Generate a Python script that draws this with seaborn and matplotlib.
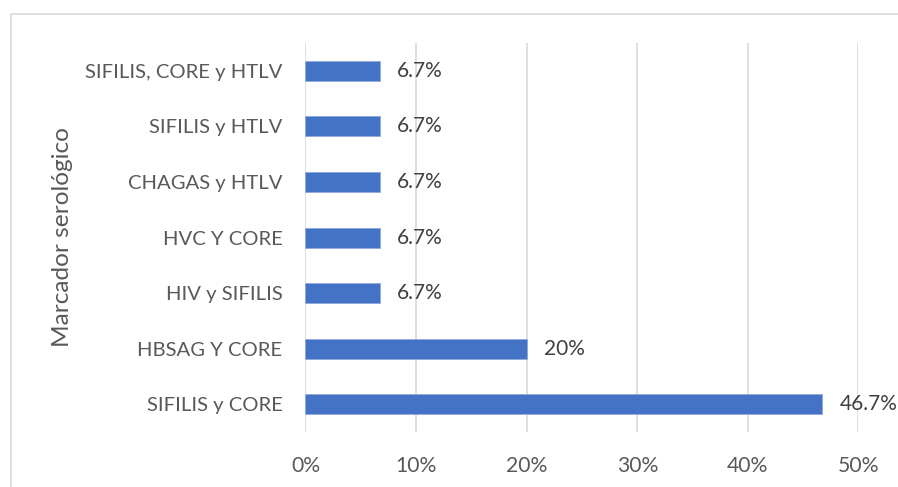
import pandas as pd
import matplotlib.pyplot as plt
import seaborn as sns
from matplotlib.ticker import PercentFormatter
from matplotlib.patches import Rectangle

markers = ['SIFILIS, CORE y HTLV', 'SIFILIS y HTLV', 'CHAGAS y HTLV',
           'HVC Y CORE', 'HIV y SIFILIS', 'HBSAG Y CORE', 'SIFILIS y CORE']
share = [0.067, 0.067, 0.067, 0.067, 0.067, 0.20, 0.467]
share_labels = ['6.7%', '6.7%', '6.7%', '6.7%', '6.7%', '20%', '46.7%']

def main():
    df = pd.DataFrame({'Marcador': markers, 'Porcentaje': share})

    sns.set_style('white')
    plt.rcParams['font.family'] = ['Lato', 'DejaVu Sans']

    fig = plt.figure(figsize=(8.98, 4.87), dpi=100)
    ax = fig.add_axes([0.3402, 0.1129, 0.6158, 0.7988])

    sns.barplot(data=df, y='Marcador', x='Porcentaje', order=markers,
                color='#4472C4', saturation=1, width=0.36, orient='h', ax=ax,
                edgecolor='#8FAADC', linewidth=0.6)

    ax.bar_label(ax.containers[0], labels=share_labels, padding=12.5,
                 fontsize=15, color='#404040')

    ax.set_xlim(0, 0.5)
    ax.set_ylim(6.5, -0.5)
    ax.set_xticks([0, 0.1, 0.2, 0.3, 0.4, 0.5])
    ax.xaxis.set_major_formatter(PercentFormatter(xmax=1, decimals=0))
    ax.grid(True, axis='x', color='#D9D9D9', linewidth=1.2)
    ax.set_axisbelow(True)
    for s in ax.spines.values():
        s.set_visible(False)
    ax.tick_params(axis='both', length=0, colors='#595959')
    ax.tick_params(axis='x', pad=17, labelsize=15.2)
    ax.tick_params(axis='y', pad=16.5, labelsize=14.6)
    ax.set_xlabel('')
    ax.set_ylabel('Marcador serológico', fontsize=17.6, color='#595959')
    ax.yaxis.set_label_coords(-0.42, 0.5)

    fig.patches.append(Rectangle((11 / 898, -0.1), 1.2, 1 - 14 / 487 + 0.1,
                                 transform=fig.transFigure, fill=False,
                                 edgecolor='#D9D9D9', linewidth=1.2))

    plt.savefig('out.png', dpi=100)

if __name__ == "__main__":
    main()
